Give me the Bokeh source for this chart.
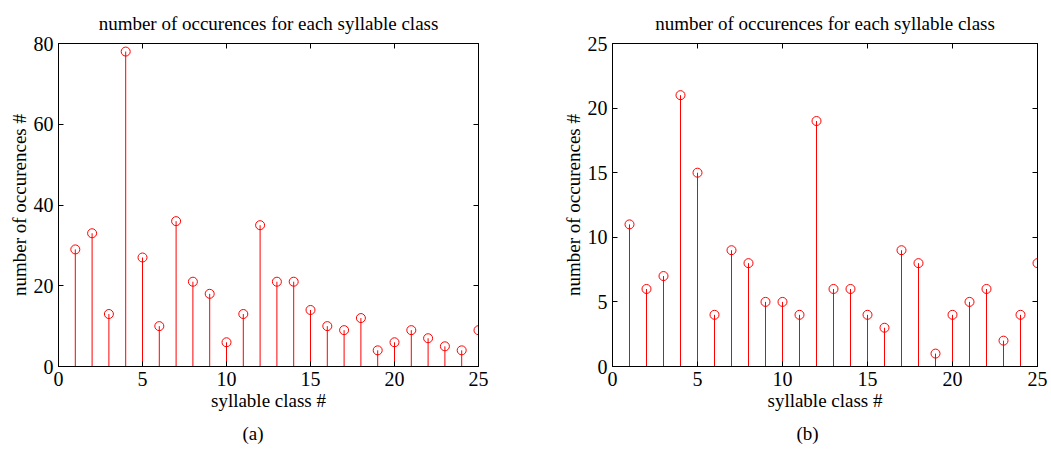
from bokeh.plotting import figure
from bokeh.layouts import row
from bokeh.models import LinearAxis, Range1d, FixedTicker, Title
from bokeh.embed import file_html
from bokeh.resources import INLINE

# syllable classes 1..25
classes = list(range(1, 26))

# occurrence counts per syllable class, panel (a)
counts_a = [29, 33, 13, 78, 27, 10, 36, 21, 18, 6, 13, 35, 21, 21, 14,
            10, 9, 12, 4, 6, 9, 7, 5, 4, 9]
# occurrence counts per syllable class, panel (b)
counts_b = [11, 6, 7, 21, 15, 4, 9, 8, 5, 5, 4, 19, 6, 6, 4,
            3, 9, 8, 1, 4, 5, 6, 2, 4, 8]

x_ticks = [0, 5, 10, 15, 20, 25]
y_ticks_a = [0, 20, 40, 60, 80]
y_ticks_b = [0, 5, 10, 15, 20, 25]

FONT = "Liberation Serif"
RED = "#ff0000"


def style_axis(ax, ticks, show_labels=True):
    ax.ticker = FixedTicker(ticks=ticks)
    ax.major_tick_in = 5
    ax.major_tick_out = 0
    ax.minor_tick_in = 0
    ax.minor_tick_out = 0
    ax.axis_line_color = "black"
    ax.axis_line_width = 1
    ax.major_tick_line_color = "black"
    ax.major_label_text_font = FONT
    if show_labels:
        ax.major_label_text_color = "black"
        ax.major_label_text_font_size = "20px"
        ax.major_label_standoff = 5
    else:
        # mirror axis: ticks only, labels are not drawn
        ax.major_label_text_color = None
        ax.major_label_text_font_size = "1px"
        ax.major_label_standoff = 0


def stem_panel(values, y_max, y_ticks, tag, width, border_left, border_right):
    p = figure(width=width, height=450, output_backend="svg",
               toolbar_location=None,
               x_range=Range1d(0, 25), y_range=Range1d(0, y_max),
               min_border_left=border_left, min_border_right=border_right,
               min_border_top=42, min_border_bottom=82)
    p.xgrid.visible = False
    p.ygrid.visible = False
    p.outline_line_color = "black"
    p.background_fill_color = "white"
    p.border_fill_color = "white"

    p.title.text = "number of occurences for each syllable class"
    p.title.align = "center"
    p.title.text_font = FONT
    p.title.text_font_size = "19px"
    p.title.text_font_style = "normal"
    p.title.text_color = "black"
    p.title.standoff = 20

    style_axis(p.xaxis[0], x_ticks)
    style_axis(p.yaxis[0], y_ticks)
    p.xaxis[0].axis_label = "syllable class #"
    p.yaxis[0].axis_label = "number of occurences #"
    for ax in (p.xaxis[0], p.yaxis[0]):
        ax.axis_label_text_font = FONT
        ax.axis_label_text_font_size = "19px"
        ax.axis_label_text_font_style = "normal"
        ax.axis_label_text_color = "black"
        ax.axis_label_standoff = 1

    right = LinearAxis()
    style_axis(right, y_ticks, show_labels=False)
    p.add_layout(right, "right")
    top = LinearAxis()
    style_axis(top, x_ticks, show_labels=False)
    p.add_layout(top, "above")

    zeros = [0] * len(classes)
    p.segment(x0=classes, y0=zeros, x1=classes, y1=values,
              line_color=RED, line_width=1)
    p.scatter(x=classes, y=values, marker="circle", size=9,
              fill_color=None, line_color=RED, line_width=1)

    p.add_layout(Title(text=tag, align="left", offset=184, text_font=FONT,
                       text_font_size="19px", text_font_style="normal",
                       text_color="black", standoff=14), "below")
    return p


p1 = stem_panel(counts_a, 80, y_ticks_a, "(a)", 525, 58, 47)
p2 = stem_panel(counts_b, 25, y_ticks_b, "(b)", 526, 87, 14)

layout = row(p1, p2)
open("out.html", "w").write(file_html(layout, INLINE))
